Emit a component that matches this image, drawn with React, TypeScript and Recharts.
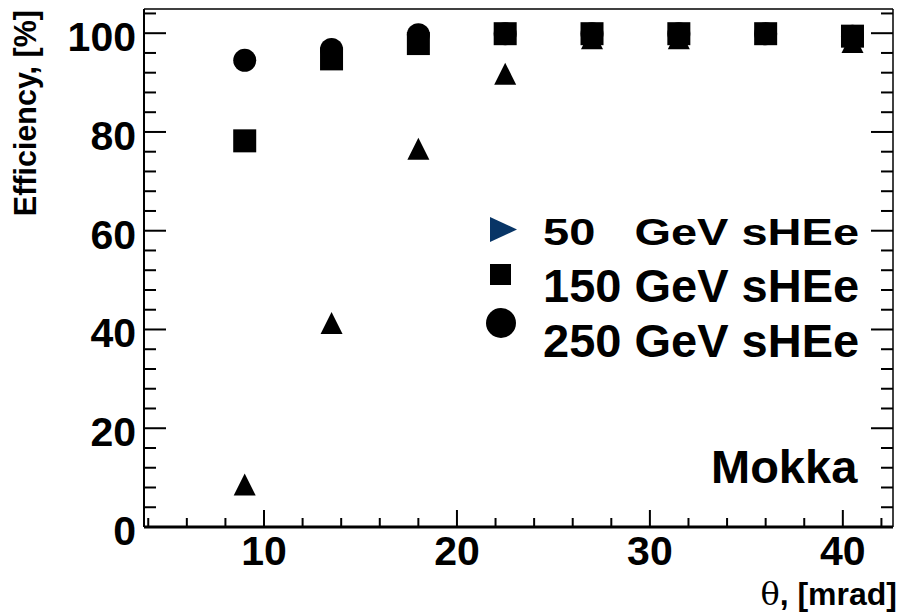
import React from 'react'
import { ScatterChart, Scatter, XAxis, YAxis, Legend } from 'recharts'

// theta positions [mrad] and efficiencies [%]
const theta = [9, 13.5, 18, 22.5, 27, 31.5, 36, 40.5]
const eff50 = [8.6, 41.3, 76.6, 91.8, 99.0, 99.0, 100, 98.2]
const eff150 = [78.2, 94.8, 97.9, 99.9, 99.9, 99.9, 99.9, 99.4]
const eff250 = [94.5, 96.7, 99.7, 99.9, 99.9, 99.9, 99.9, 99.4]

const legendLabels = ['50   GeV sHEe', '150 GeV sHEe', '250 GeV sHEe']

const xMajor = [10, 20, 30, 40]
const xTicks = [4, 6, 8, 10, 12, 14, 16, 18, 20, 22, 24, 26, 28, 30, 32, 34, 36, 38, 40, 42]
const yMajor = [0, 20, 40, 60, 80, 100]
const yTicks = [0, 4, 8, 12, 16, 20, 24, 28, 32, 36, 40, 44, 48, 52, 56, 60, 64, 68, 72, 76, 80, 84, 88, 92, 96, 100, 104]

const X_DOMAIN: [number, number] = [3.78, 42.6]
const Y_DOMAIN: [number, number] = [0, 104.9]

const toPoints = (ys: number[]) => theta.map((x, i) => ({ x, y: ys[i] }))

const FONT = '"Liberation Sans", Arial, Helvetica, sans-serif'
const line = (w: number) => ({ stroke: '#000', strokeWidth: w })

// ROOT-style inward ticks: long for major, short for minor, labels outside
const makeTick = (side: 'bottom' | 'top' | 'left' | 'right', labels: boolean) => (props: any) => {
  const { x, y, payload } = props
  const v = payload.value
  const horiz = side === 'bottom' || side === 'top'
  const major = horiz ? xMajor.includes(v) : yMajor.includes(v)
  const len = horiz ? (major ? 17 : 9) : (major ? 22 : 12)
  let l
  if (side === 'bottom') l = <line x1={x} y1={y} x2={x} y2={y - len} stroke="#000" strokeWidth={2} />
  else if (side === 'top') l = <line x1={x} y1={y} x2={x} y2={y + len} stroke="#000" strokeWidth={2} />
  else if (side === 'left') l = <line x1={x} y1={y} x2={x + len} y2={y} stroke="#000" strokeWidth={2} />
  else l = <line x1={x} y1={y} x2={x - len} y2={y} stroke="#000" strokeWidth={2} />
  return (
    <g>
      {l}
      {labels && major && side === 'bottom' && (
        <text x={x} y={y + 38} textAnchor="middle" fontSize={41} fontWeight="bold" fontFamily={FONT} fill="#000">{v}</text>
      )}
      {labels && major && side === 'left' && (
        <text x={x - 8} y={y + 18} textAnchor="end" fontSize={41} fontWeight="bold" fontFamily={FONT} fill="#000">{v}</text>
      )}
    </g>
  )
}

const Triangle = (props: any) => {
  const { cx, cy } = props
  const s = 11
  return <path d={`M${cx},${cy - s}L${cx + s},${cy + s}L${cx - s},${cy + s}Z`} fill="#000" />
}
const Square = (props: any) => {
  const { cx, cy } = props
  return <rect x={cx - 11.5} y={cy - 11.5} width={23} height={23} fill="#000" />
}
const Circle = (props: any) => {
  const { cx, cy } = props
  return <circle cx={cx} cy={cy} r={11.5} fill="#000" />
}

const LegendBox = () => (
  <svg width={400} height={170} style={{ overflow: 'visible' }}>
    <path d="M10,12L37,24.5L10,37Z" fill="#083566" />
    <rect x={10} y={59} width={21} height={21} fill="#000" />
    <circle cx={21} cy={118} r={15} fill="#000" />
    <g transform="translate(63,40) scale(1,0.8)">
      <text x={0} y={0} fontSize={47} fontWeight="bold" fontFamily={FONT} style={{ whiteSpace: 'pre' }}>
        {legendLabels[0]}
      </text>
    </g>
    <text x={63} y={97} fontSize={47} fontWeight="bold" fontFamily={FONT} style={{ whiteSpace: 'pre' }}>
      {legendLabels[1]}
    </text>
    <text x={63} y={152} fontSize={47} fontWeight="bold" fontFamily={FONT} style={{ whiteSpace: 'pre' }}>
      {legendLabels[2]}
    </text>
  </svg>
)

export default function App() {
  return (
    <div style={{ position: 'absolute', left: 0, top: 0, width: 903, height: 616, background: '#fff', fontFamily: FONT }}>
      <ScatterChart width={903} height={616} margin={{ top: 8, right: 9, bottom: 88, left: 143 }}>
        <XAxis xAxisId="b" type="number" dataKey="x" domain={X_DOMAIN} allowDataOverflow ticks={xTicks}
          interval={0} height={1} tickSize={0} tickMargin={0} tickLine={false}
          tick={makeTick('bottom', true)} axisLine={line(3)} />
        <XAxis xAxisId="t" orientation="top" type="number" domain={X_DOMAIN} allowDataOverflow ticks={xTicks}
          interval={0} height={1} tickSize={0} tickMargin={0} tickLine={false}
          tick={makeTick('top', false)} axisLine={line(1.5)} />
        <YAxis yAxisId="l" type="number" dataKey="y" domain={Y_DOMAIN} allowDataOverflow ticks={yTicks}
          interval={0} width={1} tickSize={0} tickMargin={0} tickLine={false}
          tick={makeTick('left', true)} axisLine={line(2)} />
        <YAxis yAxisId="r" orientation="right" type="number" domain={Y_DOMAIN} allowDataOverflow ticks={yTicks}
          interval={0} width={1} tickSize={0} tickMargin={0} tickLine={false}
          tick={makeTick('right', false)} axisLine={line(1.5)} />

        <Scatter name="50 GeV sHEe" xAxisId="b" yAxisId="l" data={toPoints(eff50)} shape={Triangle} isAnimationActive={false} />
        <Scatter name="150 GeV sHEe" xAxisId="b" yAxisId="l" data={toPoints(eff150)} shape={Square} isAnimationActive={false} />
        <Scatter name="250 GeV sHEe" xAxisId="b" yAxisId="l" data={toPoints(eff250)} shape={Circle} isAnimationActive={false} />

        <Legend layout="vertical" align="center" verticalAlign="middle" content={() => <LegendBox />}
          wrapperStyle={{ left: 480, top: 205, width: 400, height: 170 }} />

        <text x={711} y={483} fontSize={47} fontWeight="bold" fontFamily={FONT} fill="#000">Mokka</text>
        <text x={897} y={605} textAnchor="end" fontSize={32} fontWeight="bold" fontFamily={FONT} fill="#000">
          <tspan fontWeight="normal" fontFamily='"DejaVu Serif", "Liberation Serif", serif'>θ</tspan>, [mrad]
        </text>
        <text transform="translate(36,10) rotate(-90)" textAnchor="end" fontSize={30.5} fontWeight="bold" fontFamily={FONT} fill="#000">
          Efficiency, [%]
        </text>
      </ScatterChart>
    </div>
  )
}
